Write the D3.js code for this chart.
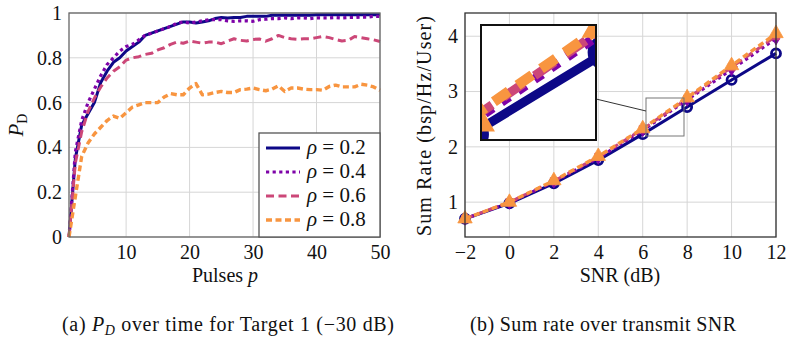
<!DOCTYPE html>
<html>
<head>
<meta charset="utf-8">
<script src="https://d3js.org/d3.v7.min.js"></script>
<style>
    body { margin: 0; background: #fff; }
    svg, svg text { font-family: "Liberation Serif", "Times New Roman", serif; }
    svg { display: block; }
</style>
</head>
<body>
<svg id="fig" width="792" height="349"></svg>
<script>
// ------------------------------------------------------------------
// Data
// ------------------------------------------------------------------
var pulses = d3.range(1, 51);
var pd02 = [0.00, 0.35, 0.50, 0.55, 0.60, 0.69, 0.74, 0.78, 0.80, 0.83,
            0.85, 0.87, 0.90, 0.91, 0.92, 0.93, 0.94, 0.95, 0.96, 0.96,
            0.955, 0.96, 0.965, 0.975, 0.98, 0.978, 0.98, 0.98, 0.985, 0.985,
            0.985, 0.985, 0.99, 0.99, 0.99, 0.99, 0.99, 0.99, 0.99, 0.992,
            0.992, 0.992, 0.992, 0.992, 0.992, 0.992, 0.992, 0.992, 0.992, 0.992];
var pd04 = [0.00, 0.38, 0.52, 0.60, 0.66, 0.72, 0.77, 0.80, 0.83, 0.85,
            0.86, 0.88, 0.90, 0.91, 0.92, 0.93, 0.94, 0.955, 0.96, 0.955,
            0.96, 0.965, 0.97, 0.97, 0.97, 0.965, 0.963, 0.965, 0.965, 0.963,
            0.97, 0.972, 0.975, 0.975, 0.978, 0.975, 0.978, 0.978, 0.975, 0.978,
            0.978, 0.978, 0.98, 0.978, 0.98, 0.98, 0.982, 0.982, 0.985, 0.985];
var pd06 = [0.00, 0.33, 0.47, 0.56, 0.62, 0.67, 0.71, 0.74, 0.76, 0.79,
            0.80, 0.805, 0.815, 0.82, 0.835, 0.845, 0.86, 0.87, 0.865, 0.875,
            0.87, 0.865, 0.87, 0.87, 0.863, 0.875, 0.885, 0.878, 0.875, 0.882,
            0.884, 0.874, 0.885, 0.90, 0.89, 0.885, 0.883, 0.885, 0.885, 0.89,
            0.895, 0.89, 0.882, 0.875, 0.878, 0.895, 0.89, 0.885, 0.88, 0.873];
var pd08 = [0.00, 0.18, 0.36, 0.42, 0.46, 0.49, 0.52, 0.54, 0.53, 0.555,
            0.58, 0.59, 0.60, 0.60, 0.60, 0.625, 0.64, 0.635, 0.635, 0.665,
            0.685, 0.635, 0.638, 0.645, 0.65, 0.645, 0.645, 0.658, 0.66, 0.665,
            0.658, 0.653, 0.66, 0.675, 0.65, 0.665, 0.665, 0.66, 0.658, 0.658,
            0.655, 0.672, 0.678, 0.67, 0.67, 0.67, 0.682, 0.678, 0.67, 0.655];

var snr = [-2, 0, 2, 4, 6, 8, 10, 12];
var rate02 = [0.70, 0.98, 1.34, 1.76, 2.23, 2.72, 3.21, 3.69];
var rate04 = [0.70, 0.99, 1.37, 1.80, 2.30, 2.85, 3.40, 3.96];
var rate06 = [0.70, 1.00, 1.38, 1.82, 2.32, 2.87, 3.44, 4.00];
var rate08 = [0.70, 1.00, 1.39, 1.83, 2.33, 2.89, 3.47, 4.05];

var rhoLabels = ["0.2", "0.4", "0.6", "0.8"];
var pdTicksX = [10, 20, 30, 40, 50];
var pdTicksY = [0, 0.2, 0.4, 0.6, 0.8, 1];
var snrTicksX = [-2, 0, 2, 4, 6, 8, 10, 12];
var rateTicksY = [1, 2, 3, 4];

// styles
var serif = "'Liberation Serif', 'Times New Roman', serif";
var colors = ["#0d0887", "#7e03a8", "#cc4778", "#f89540"];
var dashes = [null, "3.2,3.4", "8,4.5", "6,3.5"];
var widths = [3, 3.2, 3, 3.4];
var symbols = [d3.symbolCircle, d3.symbolDiamond, d3.symbolSquare, d3.symbolTriangle];
var symbolSizes = [64, 48, 50, 90];

var svg = d3.select("#fig");
var gridColor = "#d6d6d6";

// ------------------------------------------------------------------
// Helpers
// ------------------------------------------------------------------
function drawGrid(g, x, y, tx, ty) {
    g.selectAll("line.gx").data(tx).enter().append("line")
        .attr("x1", x).attr("x2", x)
        .attr("y1", y.range()[0]).attr("y2", y.range()[1])
        .attr("stroke", gridColor).attr("stroke-width", 1);
    g.selectAll("line.gy").data(ty).enter().append("line")
        .attr("y1", y).attr("y2", y)
        .attr("x1", x.range()[0]).attr("x2", x.range()[1])
        .attr("stroke", gridColor).attr("stroke-width", 1);
}

function drawAxes(g, x, y, tx, ty, fx, fy) {
    var ax = g.append("g").attr("transform", "translate(0," + y.range()[0] + ")")
        .call(d3.axisBottom(x).tickValues(tx).tickSize(0).tickPadding(8).tickFormat(fx));
    var ay = g.append("g").attr("transform", "translate(" + x.range()[0] + ",0)")
        .call(d3.axisLeft(y).tickValues(ty).tickSize(0).tickPadding(7).tickFormat(fy));
    [ax, ay].forEach(function(a) {
        a.attr("font-family", serif).attr("font-size", 20);
        a.select(".domain").remove();
        a.selectAll("text").attr("fill", "#111");
    });
}

function frame(g, x, y, color) {
    g.append("rect")
        .attr("x", x.range()[0]).attr("y", y.range()[1])
        .attr("width", x.range()[1] - x.range()[0])
        .attr("height", y.range()[0] - y.range()[1])
        .attr("fill", "none").attr("stroke", color).attr("stroke-width", 1.3);
}

function label(g) {
    return g.append("text").attr("font-family", serif).attr("font-size", 20).attr("fill", "#111");
}

// ------------------------------------------------------------------
// (a) P_D over pulses
// ------------------------------------------------------------------
var xa = d3.scaleLinear().domain([1, 50]).range([69, 380]);
var ya = d3.scaleLinear().domain([0, 1]).range([237, 13]);
var ga = svg.append("g");
drawGrid(ga, xa, ya, pdTicksX, pdTicksY);

var pdSeries = [pd02, pd04, pd06, pd08];
var lineA = d3.line().x(function(d, i) { return xa(pulses[i]); }).y(function(d) { return ya(d); });
pdSeries.forEach(function(s, k) {
    ga.append("path").datum(s)
        .attr("d", lineA)
        .attr("fill", "none")
        .attr("stroke", colors[k])
        .attr("stroke-width", widths[k])
        .attr("stroke-dasharray", dashes[k])
        .attr("stroke-linejoin", "round");
});
frame(ga, xa, ya, "#666");
drawAxes(ga, xa, ya, pdTicksX, pdTicksY, function(d) { return String(d); }, function(d) { return String(d); });

// legend
var leg = ga.append("g");
leg.append("rect").attr("x", 259).attr("y", 133).attr("width", 121).attr("height", 104)
    .attr("fill", "#fff").attr("stroke", "#555").attr("stroke-width", 1.3);
rhoLabels.forEach(function(r, k) {
    var yy = 148 + k * 24;
    leg.append("line").attr("x1", 266).attr("x2", 300).attr("y1", yy).attr("y2", yy)
        .attr("stroke", colors[k]).attr("stroke-width", widths[k])
        .attr("stroke-dasharray", dashes[k]);
    var t = label(leg).attr("x", 307).attr("y", yy + 6).attr("font-size", 21);
    t.append("tspan").attr("font-style", "italic").text("ρ");
    t.append("tspan").text(" = " + r);
});

// axis labels
var yl = label(ga).attr("transform", "translate(23,125) rotate(-90)")
    .attr("text-anchor", "middle").attr("font-size", 21);
yl.append("tspan").attr("font-style", "italic").text("P");
yl.append("tspan").attr("font-size", 14).attr("dy", 4).text("D");

var xl = label(ga).attr("x", 225).attr("y", 282).attr("text-anchor", "middle");
xl.append("tspan").text("Pulses ");
xl.append("tspan").attr("font-style", "italic").text("p");

// ------------------------------------------------------------------
// (b) Sum rate over SNR
// ------------------------------------------------------------------
var xb = d3.scaleLinear().domain([-2, 12]).range([465, 776]);
var yb = d3.scaleLinear().domain([0.37, 4.42]).range([237, 13]);
var gb = svg.append("g");
drawGrid(gb, xb, yb, snrTicksX, rateTicksY);

var rateSeries = [rate02, rate04, rate06, rate08];
var lineB = d3.line().x(function(d, i) { return xb(snr[i]); }).y(function(d) { return yb(d); });

function drawRates(g) {
    rateSeries.forEach(function(s, k) {
        g.append("path").datum(s)
            .attr("d", lineB)
            .attr("fill", "none")
            .attr("stroke", colors[k])
            .attr("stroke-width", widths[k])
            .attr("stroke-dasharray", dashes[k])
            .attr("stroke-linejoin", "round");
        g.selectAll(null).data(s).enter().append("path")
            .attr("transform", function(d, i) { return "translate(" + xb(snr[i]) + "," + yb(d) + ")"; })
            .attr("d", d3.symbol().type(symbols[k]).size(symbolSizes[k]))
            .attr("fill", k === 0 ? "none" : colors[k])
            .attr("stroke", colors[k])
            .attr("stroke-width", k === 0 ? 2.8 : 0.8);
    });
}
drawRates(gb);
frame(gb, xb, yb, "#333");
drawAxes(gb, xb, yb, snrTicksX, rateTicksY, d3.format("d"), d3.format("d"));

// zoom window and inset
var zoomBox = { x: 646, y: 98, w: 38, h: 38 };
var insetBox = { x: 481, y: 25, w: 115, h: 115 };
gb.append("rect").attr("x", zoomBox.x).attr("y", zoomBox.y)
    .attr("width", zoomBox.w).attr("height", zoomBox.h)
    .attr("fill", "none").attr("stroke", "#777").attr("stroke-width", 1);
gb.append("line").attr("x1", insetBox.x + insetBox.w).attr("y1", 99)
    .attr("x2", zoomBox.x).attr("y2", 111)
    .attr("stroke", "#333").attr("stroke-width", 1);

svg.append("clipPath").attr("id", "insetClip").append("rect")
    .attr("x", insetBox.x).attr("y", insetBox.y).attr("width", insetBox.w).attr("height", insetBox.h);
var ins = gb.append("g").attr("clip-path", "url(#insetClip)");
ins.append("rect").attr("x", insetBox.x).attr("y", insetBox.y)
    .attr("width", insetBox.w).attr("height", insetBox.h).attr("fill", "#fff");
var sx = insetBox.w / zoomBox.w, sy = insetBox.h / zoomBox.h;
var insInner = ins.append("g")
    .attr("transform", "translate(" + insetBox.x + "," + insetBox.y + ") scale(" + sx + "," + sy +
          ") translate(" + (-zoomBox.x) + "," + (-zoomBox.y) + ")");
drawRates(insInner);
gb.append("rect").attr("x", insetBox.x).attr("y", insetBox.y)
    .attr("width", insetBox.w).attr("height", insetBox.h)
    .attr("fill", "none").attr("stroke", "#111").attr("stroke-width", 2);

// axis labels
label(gb).attr("transform", "translate(431,126) rotate(-90)")
    .attr("text-anchor", "middle")
    .attr("textLength", 220).attr("lengthAdjust", "spacing")
    .text("Sum Rate (bsp/Hz/User)");
label(gb).attr("x", 620).attr("y", 282).attr("text-anchor", "middle").text("SNR (dB)");

// ------------------------------------------------------------------
// Captions
// ------------------------------------------------------------------
var ca = label(svg).attr("x", 228).attr("y", 331).attr("text-anchor", "middle")
    .attr("textLength", 332).attr("lengthAdjust", "spacing");
ca.append("tspan").text("(a) ");
ca.append("tspan").attr("font-style", "italic").text("P");
ca.append("tspan").attr("font-style", "italic").attr("font-size", 14).attr("dy", 4).text("D");
ca.append("tspan").attr("dy", -4).text(" over time for Target 1 (\u221230 dB)");

label(svg).attr("x", 603).attr("y", 331).attr("text-anchor", "middle")
    .attr("textLength", 266).attr("lengthAdjust", "spacing")
    .text("(b) Sum rate over transmit SNR");
</script>
</body>
</html>
